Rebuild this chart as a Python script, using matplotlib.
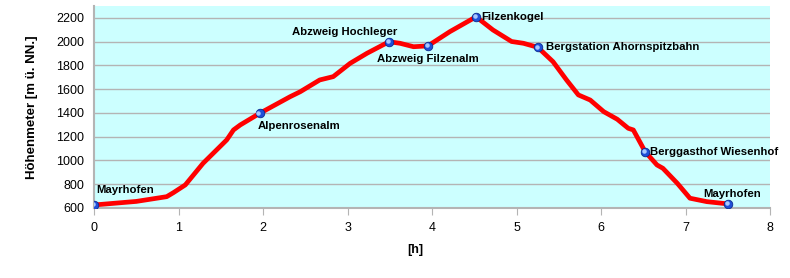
import matplotlib
matplotlib.use('Agg')
import matplotlib.pyplot as plt

# Profil (Zeit in h, Hoehe in m)
hours = [0, 0.5, 0.86, 0.94, 1.0, 1.08, 1.29, 1.57, 1.65, 1.73, 1.96, 2.32, 2.44, 2.67, 2.83,
         3.03, 3.23, 3.49, 3.62, 3.78, 3.95, 4.21, 4.52, 4.72, 4.94, 5.08, 5.25, 5.43, 5.59,
         5.73, 5.87, 6.03, 6.19, 6.32, 6.38, 6.52, 6.66, 6.73, 6.9, 7.05, 7.25, 7.5]
height = [625, 655, 695, 729, 757, 794, 976, 1173, 1257, 1299, 1397, 1537, 1579, 1678, 1706,
          1818, 1903, 2000, 1987, 1958, 1965, 2085, 2210, 2099, 2002, 1987, 1953, 1832, 1678,
          1552, 1509, 1411, 1347, 1271, 1257, 1074, 962, 934, 808, 682, 653, 634]

# Wegpunkte
wp_names = ['Mayrhofen', 'Alpenrosenalm', 'Abzweig Hochleger', 'Abzweig Filzenalm',
            'Filzenkogel', 'Bergstation Ahornspitzbahn', 'Berggasthof Wiesenhof', 'Mayrhofen']
wp_h = [0, 1.96, 3.49, 3.95, 4.52, 5.25, 6.52, 7.5]
wp_m = [625, 1397, 2000, 1965, 2210, 1953, 1074, 634]
# (dx, dy in pixel, ha, va)
wp_off = [(2, 10, 'left', 'bottom'), (-2, -8, 'left', 'top'), (8, 5, 'right', 'bottom'),
          (0, -8, 'center', 'top'), (5, 0, 'left', 'center'), (8, 0, 'left', 'center'),
          (5, 0, 'left', 'center'), (4, 5, 'center', 'bottom')]

plt.rcParams['font.family'] = ['Liberation Sans', 'DejaVu Sans']
fig = plt.figure(figsize=(7.9, 2.78), dpi=100)
ax = fig.add_axes([0.119, 0.252, 0.856, 0.726])
ax.set_facecolor('#ccffff')

ax.plot(hours, height, color='#ff0000', lw=3.4, solid_joinstyle='round', zorder=3)
ax.scatter(wp_h, wp_m, s=38, color='#1f4fd8', edgecolors='#0a2a90', linewidths=0.6, zorder=4)
ax.scatter([h - 0.015 for h in wp_h], [m + 6 for m in wp_m], s=5, color='#a8c8ff', zorder=5)

for name, h, m, (dx, dy, ha, va) in zip(wp_names, wp_h, wp_m, wp_off):
    ax.annotate(name, (h, m), xytext=(dx, dy), textcoords='offset pixels',
                ha=ha, va=va, fontsize=8.2, fontweight='bold', color='black', zorder=6)

ax.set_xlim(0, 8)
ax.set_ylim(600, 2300)
ax.set_xticks(range(0, 9))
ax.set_yticks(range(600, 2201, 200))
ax.grid(True, axis='y', color='#b4b4b4', lw=1)
ax.set_axisbelow(True)
for s in ['top', 'right']:
    ax.spines[s].set_visible(False)
for s in ['left', 'bottom']:
    ax.spines[s].set_color('#b4b4b4')
    ax.spines[s].set_linewidth(1.5)
ax.tick_params(axis='x', length=5, color='#b4b4b4', labelsize=9, pad=5)
ax.tick_params(axis='y', length=0, labelsize=9, pad=7)

ax.set_ylabel('Höhenmeter [m ü. NN.]', fontsize=9.5, fontweight='bold', labelpad=13)
fig.text(0.526, 0.1, '[h]', fontsize=9, fontweight='bold', ha='center', va='center')

fig.savefig('out.png', dpi=100)
